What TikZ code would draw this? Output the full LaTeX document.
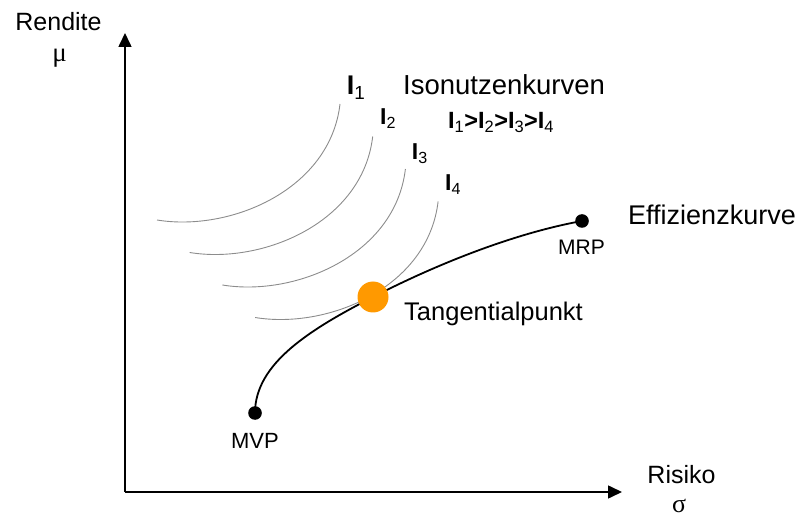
\documentclass[tikz,border=0pt]{standalone}
\usepackage{fontspec}
\setmainfont{Liberation Sans}
\newfontfamily\greekfont{Liberation Serif}
\usetikzlibrary{arrows.meta}
\definecolor{tangorange}{RGB}{255,153,0}
\definecolor{isogray}{RGB}{140,140,140}
\newcommand{\fsz}[1]{\fontsize{#1}{#1}\selectfont}
\newcommand{\Isub}[1]{\textbf{I}\textsubscript{#1}}

\begin{document}
\begin{tikzpicture}[x=1pt,y=1pt,
    axis/.style={line width=1.6pt, -{Triangle[length=14pt,width=13pt]}},
    isoline/.style={isogray, line width=0.9pt},
    frontier/.style={line width=1.8pt},
    txt/.style={inner sep=0pt, font=\fsz{25}}]
  \useasboundingbox (0,0) rectangle (803,517);

  % axes
  \coordinate (O) at (125,25);
  \coordinate (ytop) at (125,484);
  \coordinate (xend) at (622,25);
  \draw[axis] (O) -- (ytop);
  \draw[axis] (O) -- (xend);

  \node[txt, anchor=base] (rendite) at (58.5,486) {Rendite};
  \node[txt, font=\greekfont\fsz{27}, anchor=base] (mu) at (59.5,455) {μ};
  \node[txt, anchor=base] (risiko) at (681.5,34) {Risiko};
  \node[txt, font=\greekfont\fsz{26}, anchor=base] (sigma) at (679,4.5) {σ};

  % indifference curves I1..I4
  \foreach \i in {0,...,3}
    \draw[isoline, shift={({32.7*\i},{-32.5*\i})}]
      (157,297) .. controls (230,285) and (330,327) .. (340,413);

  % efficient frontier
  \coordinate (mvp) at (255,104);
  \coordinate (tp) at (373,220);
  \coordinate (mrp) at (582,296);
  \draw[frontier] (mvp) .. controls +(0,50) and +(-62,-32) .. (tp)
    .. controls +(62,32) and +(-69,-12.5) .. (mrp);
  \fill (mvp) circle (6.8);
  \fill (mrp) circle (6.8);
  \fill[tangorange] (tp) circle (15.5);

  \node[txt, font=\fsz{22}, anchor=base] (mvplbl) at (255,69) {MVP};
  \node[txt, font=\fsz{21}, anchor=base] (mrplbl) at (581.5,262) {MRP};
  \node[txt, font=\fsz{25.5}, anchor=base west] (tplbl) at (404,196.3) {Tangentialpunkt};
  \node[txt, font=\fsz{27}, anchor=base west] (eff) at (628,292) {Effizienzkurve};

  \node[txt, font=\fsz{27.5}, anchor=base west] (iso) at (403,422) {Isonutzenkurven};
  \node[txt, font=\fsz{27}, anchor=base west] (i1) at (346.7,422) {\Isub{1}};
  \node[txt, font=\fsz{23}, anchor=base west] (i2) at (380,392) {\Isub{2}};
  \node[txt, font=\fsz{23}, anchor=base west] (i3) at (411.7,357) {\Isub{3}};
  \node[txt, font=\fsz{23}, anchor=base west] (i4) at (445,326) {\Isub{4}};
  \node[txt, font=\fsz{23.5}, anchor=base west] (order) at (448,388.7)
    {\Isub{1}\textbf{>}\Isub{2}\textbf{>}\Isub{3}\textbf{>}\Isub{4}};
\end{tikzpicture}
\end{document}
